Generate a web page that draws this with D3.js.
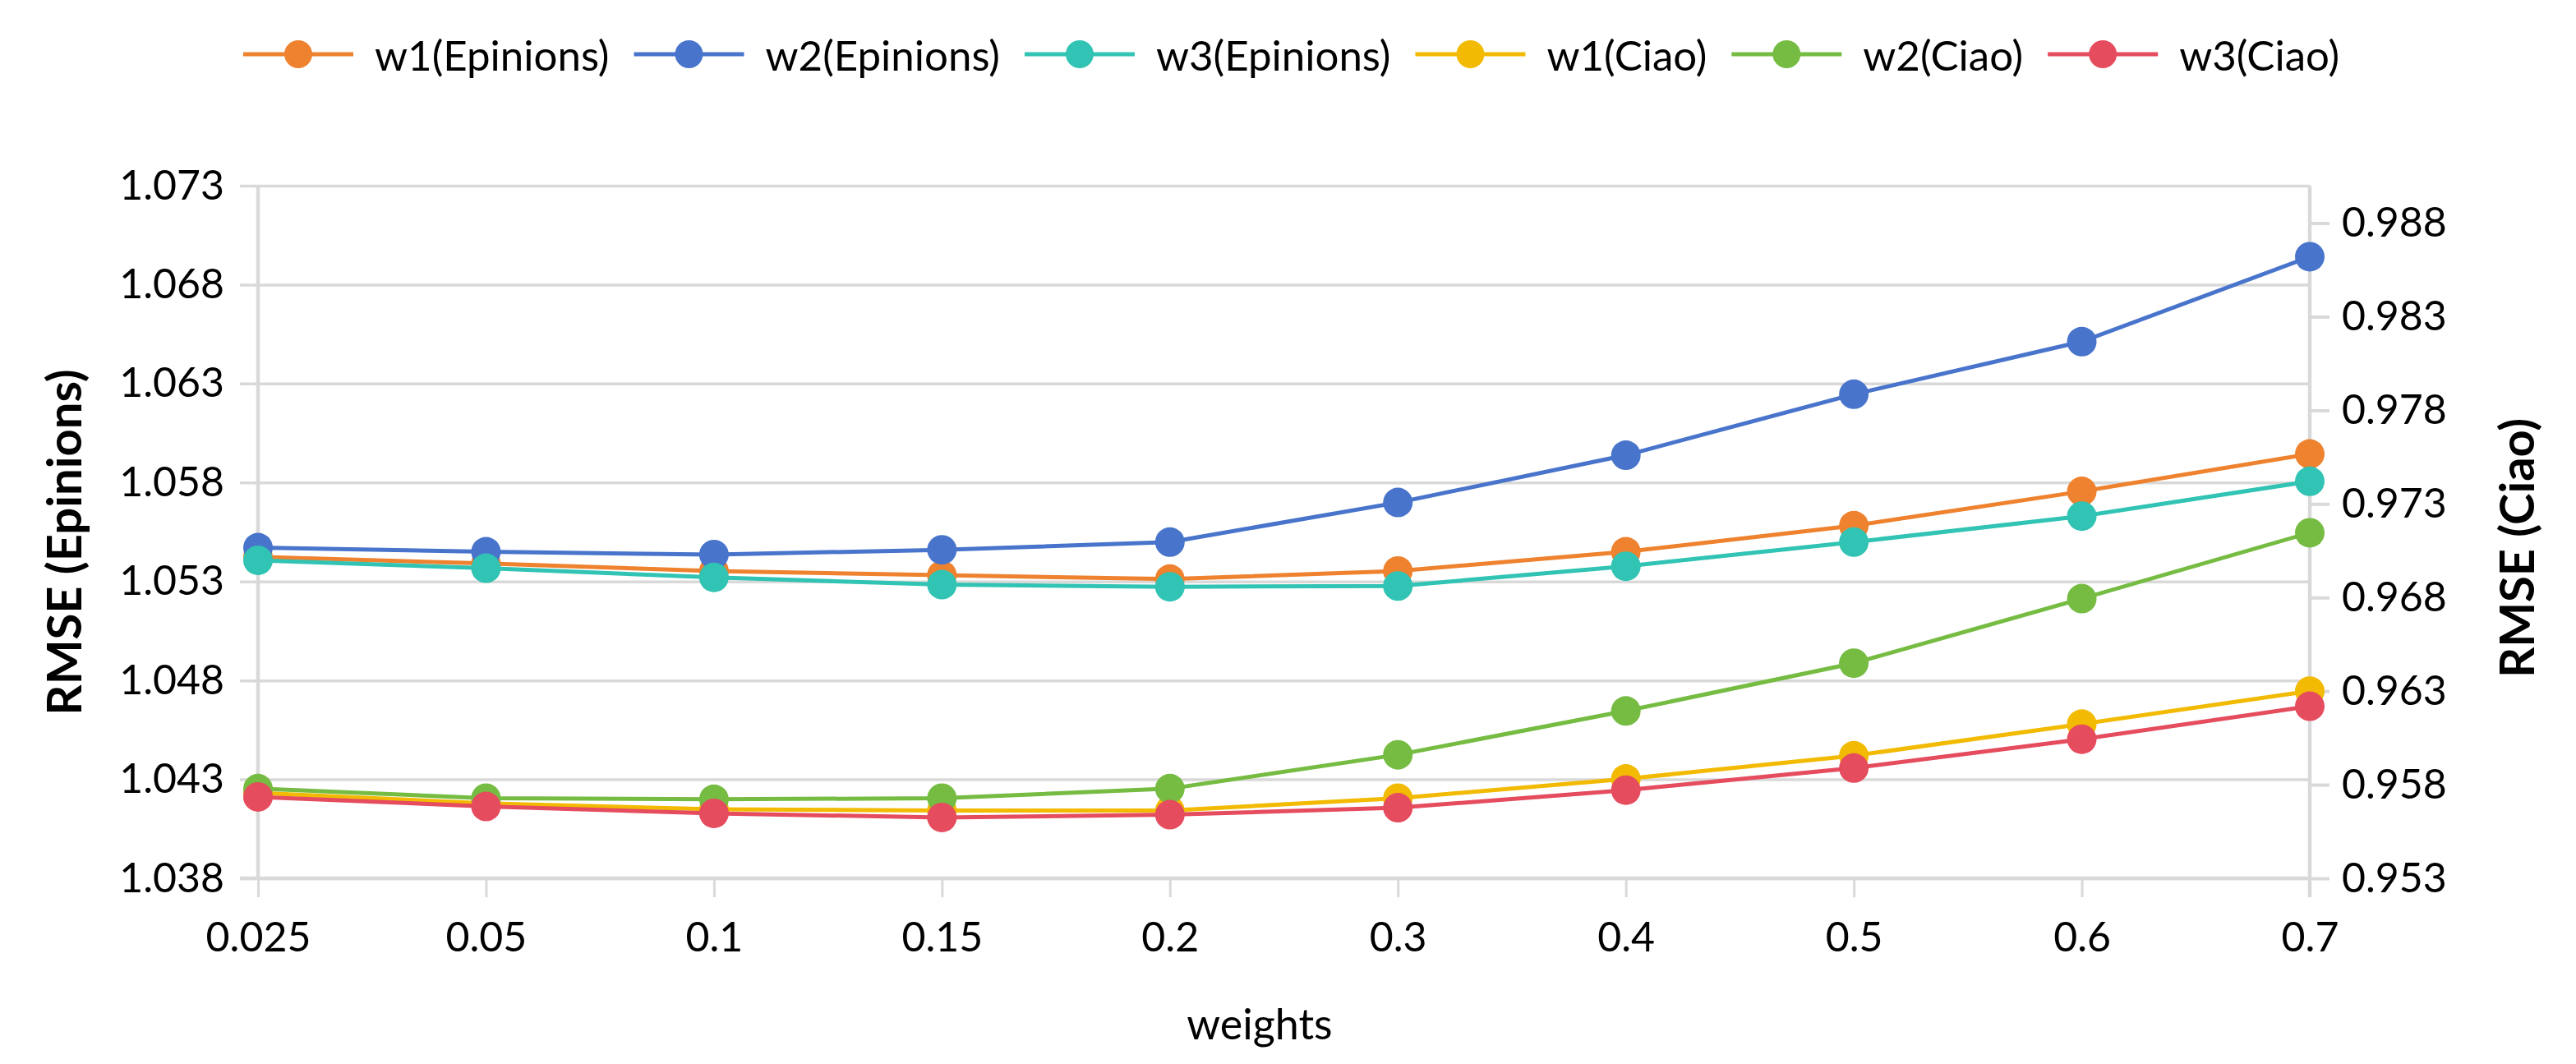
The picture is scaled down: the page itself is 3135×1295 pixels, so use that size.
<!DOCTYPE html>
<html>
<head>
<meta charset="utf-8">
<script src="https://cdn.jsdelivr.net/npm/d3@7"></script>
<style>
  html, body { margin: 0; padding: 0; background: #ffffff; }
  svg { display: block; }
</style>
</head>
<body>
<svg id="chart" width="3135" height="1295"></svg>
<script>
// ---------------- data ----------------
const categories = ["0.025", "0.05", "0.1", "0.15", "0.2", "0.3", "0.4", "0.5", "0.6", "0.7"];

const w1Epinions = [1.05424, 1.05391, 1.05353, 1.05332, 1.05312, 1.05353, 1.05450, 1.05582, 1.05755, 1.05944];
const w2Epinions = [1.05471, 1.05450, 1.05436, 1.05460, 1.05499, 1.05699, 1.05938, 1.06246, 1.06512, 1.06941];
const w3Epinions = [1.05407, 1.05367, 1.05321, 1.05284, 1.05273, 1.05277, 1.05377, 1.05499, 1.05630, 1.05806];
const w1Ciao = [0.95757, 0.95700, 0.95669, 0.95662, 0.95662, 0.95728, 0.95831, 0.95955, 0.96124, 0.96300];
const w2Ciao = [0.95779, 0.95728, 0.95722, 0.95728, 0.95779, 0.95960, 0.96194, 0.96449, 0.96794, 0.97146];
const w3Ciao = [0.95735, 0.95684, 0.95647, 0.95625, 0.95640, 0.95677, 0.95771, 0.95889, 0.96043, 0.96219];

const leftTicks = [1.038, 1.043, 1.048, 1.053, 1.058, 1.063, 1.068, 1.073];
const rightTicks = [0.953, 0.958, 0.963, 0.968, 0.973, 0.978, 0.983, 0.988];

const seriesNames = ["w1(Epinions)", "w2(Epinions)", "w3(Epinions)", "w1(Ciao)", "w2(Ciao)", "w3(Ciao)"];
const seriesColors = ["#EE822F", "#4874CB", "#31C3B3", "#F2BA02", "#76BC43", "#E54C5E"];
const seriesAxis = ["left", "left", "left", "right", "right", "right"];
const seriesValues = [w1Epinions, w2Epinions, w3Epinions, w1Ciao, w2Ciao, w3Ciao];

const xTitle = "weights";
const yLeftTitle = "RMSE (Epinions)";
const yRightTitle = "RMSE (Ciao)";

// ---------------- layout ----------------
const FONT = "Lato, Calibri, Carlito, 'Open Sans', sans-serif";
const plot = { left: 314, right: 2811, top: 226, bottom: 1069 };
const gridColor = "#d9d9d9";

const svg = d3.select("#chart");
svg.append("rect").attr("width", 3135).attr("height", 1295).attr("fill", "#ffffff");

const x = d3.scalePoint().domain(categories).range([plot.left, plot.right]);
const yL = d3.scaleLinear().domain([1.038, 1.073]).range([plot.bottom, plot.top]);
const yR = d3.scaleLinear().domain([0.953, 0.990]).range([plot.bottom, plot.top]);

// horizontal gridlines (left axis), extending past left axis as ticks
const grid = svg.append("g")
  .attr("transform", `translate(${plot.right},0)`)
  .call(d3.axisLeft(yL).tickValues(leftTicks).tickSize(plot.right - 292).tickFormat(""));
grid.select(".domain").remove();
grid.selectAll(".tick line").attr("stroke", gridColor).attr("stroke-width", 3.5);

// left tick labels
const leftAxis = svg.append("g")
  .attr("transform", `translate(292,0)`)
  .call(d3.axisLeft(yL).tickValues(leftTicks).tickSize(0).tickPadding(19).tickFormat(d3.format(".3f")));
leftAxis.select(".domain").remove();
leftAxis.selectAll("text").attr("font-family", FONT).attr("font-size", 50).attr("fill", "#000");

// right axis ticks & labels
const rightAxis = svg.append("g")
  .attr("transform", `translate(${plot.right},0)`)
  .call(d3.axisRight(yR).tickValues(rightTicks).tickSize(24).tickPadding(15).tickFormat(d3.format(".3f")));
rightAxis.select(".domain").remove();
rightAxis.selectAll(".tick line").attr("stroke", gridColor).attr("stroke-width", 4);
rightAxis.selectAll("text").attr("font-family", FONT).attr("font-size", 50).attr("fill", "#000");

// x axis ticks and labels
const xAxis = svg.append("g")
  .attr("transform", `translate(0,${plot.bottom})`)
  .call(d3.axisBottom(x).tickSize(23).tickPadding(30));
xAxis.select(".domain").remove();
xAxis.selectAll(".tick line").attr("stroke", gridColor).attr("stroke-width", 3);
xAxis.selectAll("text").attr("font-family", FONT).attr("font-size", 50).attr("fill", "#000");

// axis lines
svg.append("line").attr("x1", plot.left).attr("x2", plot.left).attr("y1", plot.top).attr("y2", plot.bottom + 2)
  .attr("stroke", gridColor).attr("stroke-width", 4.5);
svg.append("line").attr("x1", plot.right).attr("x2", plot.right).attr("y1", plot.top).attr("y2", plot.bottom + 23)
  .attr("stroke", gridColor).attr("stroke-width", 4.5);
svg.append("line").attr("x1", plot.left - 22).attr("x2", plot.right).attr("y1", plot.bottom).attr("y2", plot.bottom)
  .attr("stroke", gridColor).attr("stroke-width", 4.5);

// series
seriesValues.forEach((vals, i) => {
  const ys = seriesAxis[i] === "left" ? yL : yR;
  const pts = vals.map((v, j) => ({ c: categories[j], v }));
  const g = svg.append("g");
  g.append("path")
    .datum(pts)
    .attr("fill", "none")
    .attr("stroke", seriesColors[i])
    .attr("stroke-width", 5)
    .attr("stroke-linejoin", "round")
    .attr("d", d3.line().x(d => x(d.c)).y(d => ys(d.v)));
  g.selectAll("circle").data(pts).join("circle")
    .attr("cx", d => x(d.c))
    .attr("cy", d => ys(d.v))
    .attr("r", 18)
    .attr("fill", seriesColors[i]);
});

// axis titles
svg.append("text").attr("x", 1533).attr("y", 1265).attr("text-anchor", "middle")
  .attr("font-family", FONT).attr("font-size", 52).attr("fill", "#000").text(xTitle);
svg.append("text").attr("transform", "translate(76,660) rotate(-90)")
  .attr("text-anchor", "middle").attr("dominant-baseline", "central")
  .attr("font-family", FONT).attr("font-weight", "bold").attr("font-size", 58).attr("fill", "#000").text(yLeftTitle);
svg.append("text").attr("transform", "translate(3061,667) rotate(-90)")
  .attr("text-anchor", "middle").attr("dominant-baseline", "central")
  .attr("font-family", FONT).attr("font-weight", "bold").attr("font-size", 58).attr("fill", "#000").text(yRightTitle);

// legend
const legend = svg.append("g").attr("transform", "translate(296,66)");
let lx = 0;
seriesNames.forEach((name, i) => {
  const item = legend.append("g").attr("transform", `translate(${lx},0)`);
  item.append("line").attr("x1", 0).attr("x2", 134).attr("y1", 0).attr("y2", 0)
    .attr("stroke", seriesColors[i]).attr("stroke-width", 5);
  item.append("circle").attr("cx", 67).attr("cy", 0).attr("r", 17).attr("fill", seriesColors[i]);
  const t = item.append("text").attr("x", 160).attr("y", 0).attr("dominant-baseline", "central")
    .attr("font-family", FONT).attr("font-size", 51).attr("fill", "#000").text(name);
  lx += 160 + t.node().getComputedTextLength() + 30;
});
</script>
</body>
</html>
